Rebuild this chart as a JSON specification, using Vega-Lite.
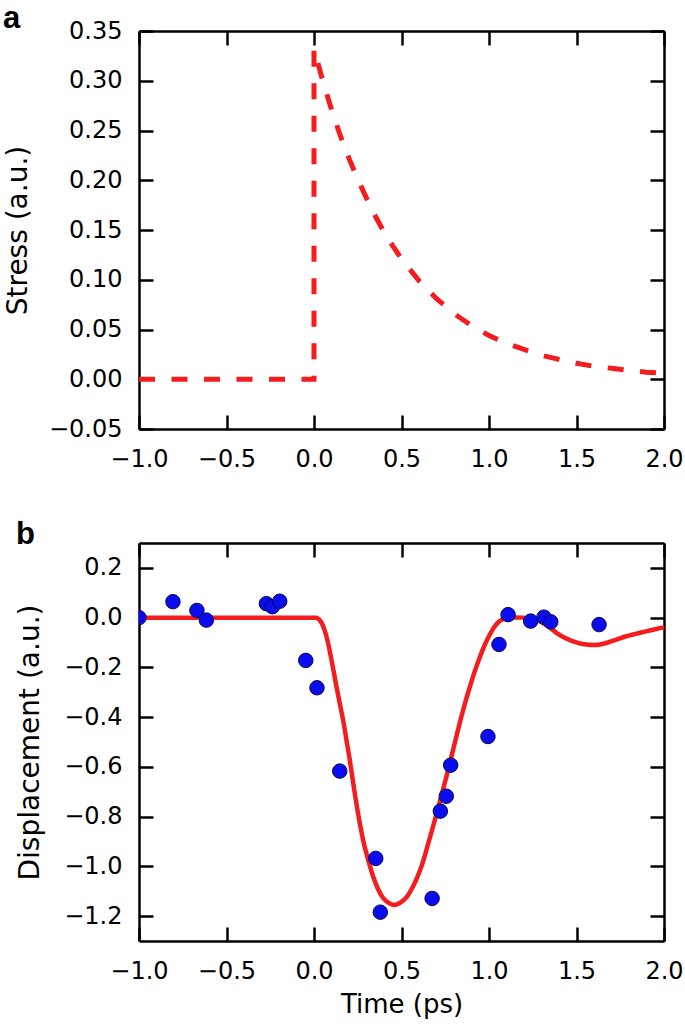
{
  "$schema": "https://vega.github.io/schema/vega-lite/v6.json",
  "padding": {"left": 3, "top": 3, "right": 10, "bottom": 5},
  "spacing": 47,
  "config": {
    "font": "DejaVu Sans",
    "view": {"stroke": null},
    "axis": {
      "grid": false,
      "domain": true,
      "domainColor": "black",
      "domainWidth": 2.5,
      "ticks": true,
      "tickColor": "black",
      "tickWidth": 2.5,
      "tickSize": -14,
      "labelFlush": false,
      "labelOverlap": false,
      "labelFontSize": 24,
      "labelColor": "black",
      "labelFont": "DejaVu Sans",
      "titleFont": "DejaVu Sans",
      "titleFontSize": 28,
      "titleFontWeight": "normal",
      "titleColor": "black",
      "zindex": 1
    },
    "title": {"font": "Liberation Sans", "fontSize": 31, "fontWeight": "bold", "color": "black", "anchor": "start", "frame": "group", "baseline": "alphabetic"}
  },
  "datasets": {
    "stress": [
      {"i": 0, "t": -1.0, "s": 0},
      {"i": 1, "t": 0.0, "s": 0},
      {"i": 2, "t": 0.0, "s": 0.332},
      {"i": 3, "t": 0.05, "s": 0.300},
      {"i": 4, "t": 0.1, "s": 0.271},
      {"i": 5, "t": 0.15, "s": 0.245},
      {"i": 6, "t": 0.2, "s": 0.222},
      {"i": 7, "t": 0.25, "s": 0.201},
      {"i": 8, "t": 0.3, "s": 0.182},
      {"i": 9, "t": 0.35, "s": 0.164},
      {"i": 10, "t": 0.4, "s": 0.148},
      {"i": 11, "t": 0.45, "s": 0.134},
      {"i": 12, "t": 0.5, "s": 0.121},
      {"i": 13, "t": 0.6, "s": 0.099},
      {"i": 14, "t": 0.7, "s": 0.081},
      {"i": 15, "t": 0.8, "s": 0.066},
      {"i": 16, "t": 0.9, "s": 0.054},
      {"i": 17, "t": 1.0, "s": 0.044},
      {"i": 18, "t": 1.1, "s": 0.036},
      {"i": 19, "t": 1.2, "s": 0.030},
      {"i": 20, "t": 1.3, "s": 0.024},
      {"i": 21, "t": 1.4, "s": 0.020},
      {"i": 22, "t": 1.5, "s": 0.016},
      {"i": 23, "t": 1.6, "s": 0.013},
      {"i": 24, "t": 1.7, "s": 0.011},
      {"i": 25, "t": 1.8, "s": 0.009},
      {"i": 26, "t": 1.9, "s": 0.007},
      {"i": 27, "t": 2.0, "s": 0.006}
    ],
    "fit": [
      {"t": -1.0, "d": 0}, {"t": -0.5, "d": 0}, {"t": 0.0, "d": 0}, {"t": 0.015, "d": 0},
      {"t": 0.03, "d": -0.008}, {"t": 0.05, "d": -0.03}, {"t": 0.071, "d": -0.075}, {"t": 0.1, "d": -0.17},
      {"t": 0.128, "d": -0.276}, {"t": 0.15, "d": -0.355}, {"t": 0.166, "d": -0.41}, {"t": 0.185, "d": -0.49},
      {"t": 0.204, "d": -0.57}, {"t": 0.223, "d": -0.66}, {"t": 0.25, "d": -0.78}, {"t": 0.28, "d": -0.892},
      {"t": 0.31, "d": -0.975}, {"t": 0.337, "d": -1.039}, {"t": 0.365, "d": -1.09}, {"t": 0.394, "d": -1.126},
      {"t": 0.425, "d": -1.146}, {"t": 0.457, "d": -1.155}, {"t": 0.49, "d": -1.147}, {"t": 0.528, "d": -1.125},
      {"t": 0.555, "d": -1.095}, {"t": 0.585, "d": -1.052}, {"t": 0.615, "d": -0.998}, {"t": 0.642, "d": -0.935},
      {"t": 0.67, "d": -0.865}, {"t": 0.699, "d": -0.792}, {"t": 0.728, "d": -0.716}, {"t": 0.757, "d": -0.638},
      {"t": 0.785, "d": -0.56}, {"t": 0.81, "d": -0.488}, {"t": 0.833, "d": -0.423}, {"t": 0.86, "d": -0.352},
      {"t": 0.89, "d": -0.28}, {"t": 0.918, "d": -0.217}, {"t": 0.947, "d": -0.16}, {"t": 0.975, "d": -0.111},
      {"t": 1.004, "d": -0.069}, {"t": 1.03, "d": -0.038}, {"t": 1.061, "d": -0.014}, {"t": 1.09, "d": -0.003},
      {"t": 1.118, "d": 0.0}, {"t": 1.16, "d": 0.001}, {"t": 1.194, "d": 0.0}, {"t": 1.24, "d": -0.004},
      {"t": 1.29, "d": -0.014}, {"t": 1.34, "d": -0.036}, {"t": 1.385, "d": -0.061}, {"t": 1.43, "d": -0.08},
      {"t": 1.48, "d": -0.095}, {"t": 1.556, "d": -0.108}, {"t": 1.6, "d": -0.11}, {"t": 1.633, "d": -0.108},
      {"t": 1.68, "d": -0.1}, {"t": 1.728, "d": -0.088}, {"t": 1.775, "d": -0.077}, {"t": 1.823, "d": -0.068},
      {"t": 1.87, "d": -0.06}, {"t": 1.918, "d": -0.052}, {"t": 1.96, "d": -0.045}, {"t": 2.0, "d": -0.039}
    ],
    "pts": [
      {"t": -1.0, "d": 0.0}, {"t": -0.806, "d": 0.064}, {"t": -0.669, "d": 0.029}, {"t": -0.615, "d": -0.010},
      {"t": -0.272, "d": 0.056}, {"t": -0.238, "d": 0.044}, {"t": -0.196, "d": 0.066}, {"t": -0.047, "d": -0.172},
      {"t": 0.017, "d": -0.282}, {"t": 0.147, "d": -0.617}, {"t": 0.353, "d": -0.968}, {"t": 0.379, "d": -1.184},
      {"t": 0.675, "d": -1.129}, {"t": 0.722, "d": -0.778}, {"t": 0.756, "d": -0.718}, {"t": 0.781, "d": -0.593},
      {"t": 0.994, "d": -0.478}, {"t": 1.057, "d": -0.108}, {"t": 1.109, "d": 0.012}, {"t": 1.238, "d": -0.014},
      {"t": 1.314, "d": 0.002}, {"t": 1.353, "d": -0.017}, {"t": 1.629, "d": -0.028}
    ]
  },
  "vconcat": [
    {
      "width": 525,
      "height": 398,
      "title": {"text": "a", "dx": -136, "offset": -16},
      "data": {"name": "stress"},
      "resolve": {"axis": {"x": "independent", "y": "independent"}},
      "layer": [
        {
          "mark": {"type": "line", "color": "#f41c1c", "strokeWidth": 5, "strokeDash": [16, 16.5], "strokeCap": "butt"},
          "encoding": {
            "x": {"field": "t", "type": "quantitative", "scale": {"domain": [-1, 2], "nice": false, "zero": false},
                  "axis": {"orient": "bottom", "values": [-1, -0.5, 0, 0.5, 1, 1.5, 2], "format": ".1f", "title": null, "labelPadding": 32}},
            "y": {"field": "s", "type": "quantitative", "scale": {"domain": [-0.05, 0.35], "nice": false, "zero": false},
                  "axis": {"orient": "left", "values": [-0.05, 0, 0.05, 0.1, 0.15, 0.2, 0.25, 0.3, 0.35], "format": ".2f", "title": "Stress (a.u.)", "labelPadding": 31, "titlePadding": 16}},
            "order": {"field": "i", "type": "quantitative"}
          }
        },
        {
          "mark": {"type": "point", "opacity": 0},
          "encoding": {
            "x": {"field": "t", "type": "quantitative", "axis": {"orient": "top", "values": [-1, -0.5, 0, 0.5, 1, 1.5, 2], "labels": false, "title": null}},
            "y": {"field": "s", "type": "quantitative", "axis": {"orient": "right", "values": [-0.05, 0, 0.05, 0.1, 0.15, 0.2, 0.25, 0.3, 0.35], "labels": false, "title": null}}
          }
        }
      ]
    },
    {
      "width": 525,
      "height": 398,
      "title": {"text": "b", "dx": -123, "offset": -9},
      "resolve": {"axis": {"x": "independent", "y": "independent"}},
      "layer": [
        {
          "data": {"name": "fit"},
          "mark": {"type": "line", "color": "#f41c1c", "strokeWidth": 4.5, "interpolate": "monotone"},
          "encoding": {
            "x": {"field": "t", "type": "quantitative", "scale": {"domain": [-1, 2], "nice": false, "zero": false},
                  "axis": {"orient": "bottom", "values": [-1, -0.5, 0, 0.5, 1, 1.5, 2], "format": ".1f", "title": "Time (ps)", "titleFontSize": 26, "labelPadding": 32, "titlePadding": 8}},
            "y": {"field": "d", "type": "quantitative", "scale": {"domain": [-1.3, 0.3], "nice": false, "zero": false},
                  "axis": {"orient": "left", "values": [-1.2, -1.0, -0.8, -0.6, -0.4, -0.2, 0, 0.2], "format": ".1f", "title": "Displacement (a.u.)", "labelPadding": 31, "titlePadding": 19}}
          }
        },
        {
          "data": {"name": "pts"},
          "mark": {"type": "point", "shape": "circle", "filled": true, "size": 210, "color": "#0b0bef", "stroke": "#0a0a4a", "strokeWidth": 1, "opacity": 1, "clip": true},
          "encoding": {
            "x": {"field": "t", "type": "quantitative", "axis": {"orient": "top", "values": [-1, -0.5, 0, 0.5, 1, 1.5, 2], "labels": false, "title": null}},
            "y": {"field": "d", "type": "quantitative", "axis": {"orient": "right", "values": [-1.2, -1.0, -0.8, -0.6, -0.4, -0.2, 0, 0.2], "labels": false, "title": null}}
          }
        }
      ]
    }
  ]
}
